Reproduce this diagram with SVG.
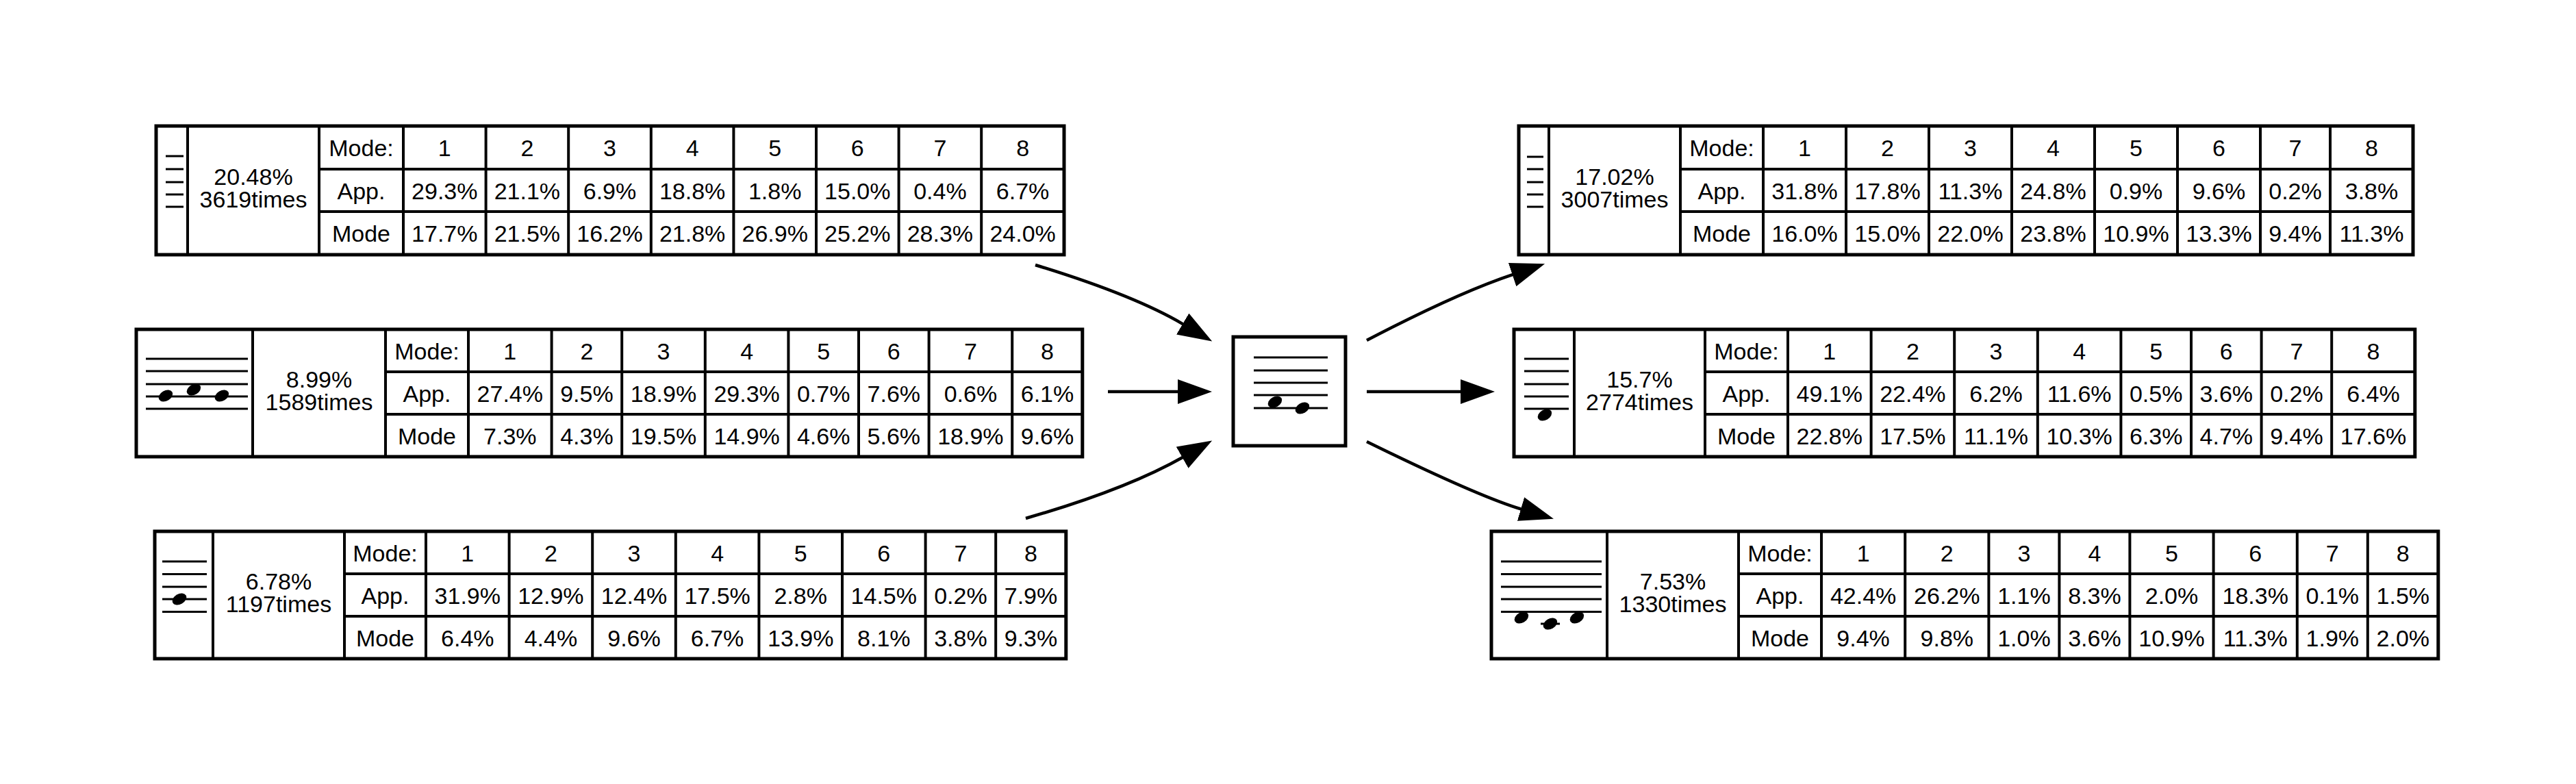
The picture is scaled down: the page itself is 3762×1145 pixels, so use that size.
<svg xmlns="http://www.w3.org/2000/svg" width="3762" height="1145" viewBox="0 0 3762 1145">
<style>
.bg{fill:#fff}
.box{fill:#fff;stroke:#000;stroke-width:5}
.grid{stroke:#000;stroke-width:4;fill:none}
.staff{stroke:#000;stroke-width:3}
.note{fill:#000}
.t{font-family:"Liberation Sans",Arial,Helvetica,sans-serif;font-size:34px;text-anchor:middle;fill:#000}
.edge{fill:none;stroke:#000;stroke-width:4.5}
</style>
<defs>
<marker id="ah" markerUnits="userSpaceOnUse" markerWidth="50" markerHeight="36" viewBox="0 0 50 36" refX="1" refY="18" orient="auto">
<path d="M0,0 L50,18 L0,36 Z" fill="#000"/>
</marker>
<ellipse id="nh" cx="0" cy="0" rx="11" ry="7.5" transform="rotate(-30)"/>
</defs>
<rect class="bg" x="0" y="0" width="3762" height="1145"/>

<g id="node-t1">
<rect class="box" x="228" y="184" width="1326" height="188"/>
<path class="grid" d="M274,184V372 M466,184V372 M589,184V372 M709.6,184V372 M830.2,184V372 M950.8,184V372 M1071.4,184V372 M1192,184V372 M1312.6,184V372 M1433.2,184V372 M466,247H1554 M466,309H1554"/>
<path class="staff" d="M242,228H268 M242,247H268 M242,266H268 M242,284H268 M242,302H268"/>
<text class="t"><tspan x="370" y="270">20.48%</tspan><tspan x="370" y="303">3619times</tspan></text>
<text class="t" y="228"><tspan x="527.5">Mode:</tspan><tspan x="649.3">1</tspan><tspan x="769.9">2</tspan><tspan x="890.5">3</tspan><tspan x="1011.1">4</tspan><tspan x="1131.7">5</tspan><tspan x="1252.3">6</tspan><tspan x="1372.9">7</tspan><tspan x="1493.6">8</tspan></text>
<text class="t" y="290.5"><tspan x="527.5">App.</tspan><tspan x="649.3">29.3%</tspan><tspan x="769.9">21.1%</tspan><tspan x="890.5">6.9%</tspan><tspan x="1011.1">18.8%</tspan><tspan x="1131.7">1.8%</tspan><tspan x="1252.3">15.0%</tspan><tspan x="1372.9">0.4%</tspan><tspan x="1493.6">6.7%</tspan></text>
<text class="t" y="352.5"><tspan x="527.5">Mode</tspan><tspan x="649.3">17.7%</tspan><tspan x="769.9">21.5%</tspan><tspan x="890.5">16.2%</tspan><tspan x="1011.1">21.8%</tspan><tspan x="1131.7">26.9%</tspan><tspan x="1252.3">25.2%</tspan><tspan x="1372.9">28.3%</tspan><tspan x="1493.6">24.0%</tspan></text>
</g>

<g id="node-t2">
<rect class="box" x="199" y="481" width="1381.8" height="186"/>
<path class="grid" d="M369,481V667 M563,481V667 M684,481V667 M805.6,481V667 M908.2,481V667 M1029.8,481V667 M1151.4,481V667 M1254,481V667 M1356.6,481V667 M1478.2,481V667 M563,543H1580.8 M563,605H1580.8"/>
<path class="staff" d="M213,524H362 M213,542H362 M213,561H362 M213,579H362 M213,597H362"/>
<use href="#nh" class="note" x="242" y="578"/>
<use href="#nh" class="note" x="283" y="569"/>
<use href="#nh" class="note" x="324" y="578"/>
<text class="t"><tspan x="466" y="566">8.99%</tspan><tspan x="466" y="599">1589times</tspan></text>
<text class="t" y="524.5"><tspan x="623.5">Mode:</tspan><tspan x="744.8">1</tspan><tspan x="856.9">2</tspan><tspan x="969">3</tspan><tspan x="1090.6">4</tspan><tspan x="1202.7">5</tspan><tspan x="1305.3">6</tspan><tspan x="1417.4">7</tspan><tspan x="1529.5">8</tspan></text>
<text class="t" y="586.5"><tspan x="623.5">App.</tspan><tspan x="744.8">27.4%</tspan><tspan x="856.9">9.5%</tspan><tspan x="969">18.9%</tspan><tspan x="1090.6">29.3%</tspan><tspan x="1202.7">0.7%</tspan><tspan x="1305.3">7.6%</tspan><tspan x="1417.4">0.6%</tspan><tspan x="1529.5">6.1%</tspan></text>
<text class="t" y="648.5"><tspan x="623.5">Mode</tspan><tspan x="744.8">7.3%</tspan><tspan x="856.9">4.3%</tspan><tspan x="969">19.5%</tspan><tspan x="1090.6">14.9%</tspan><tspan x="1202.7">4.6%</tspan><tspan x="1305.3">5.6%</tspan><tspan x="1417.4">18.9%</tspan><tspan x="1529.5">9.6%</tspan></text>
</g>

<g id="node-t3">
<rect class="box" x="226" y="776" width="1330.8" height="186"/>
<path class="grid" d="M311,776V962 M503,776V962 M622,776V962 M743.6,776V962 M865.2,776V962 M986.8,776V962 M1108.4,776V962 M1230,776V962 M1351.6,776V962 M1454.2,776V962 M503,838H1556.8 M503,900H1556.8"/>
<path class="staff" d="M237,820H302 M237,838.5H302 M237,857H302 M237,875H302 M237,893.5H302"/>
<use href="#nh" class="note" x="262" y="875"/>
<text class="t"><tspan x="407" y="861">6.78%</tspan><tspan x="407" y="894">1197times</tspan></text>
<text class="t" y="819.5"><tspan x="562.5">Mode:</tspan><tspan x="682.8">1</tspan><tspan x="804.4">2</tspan><tspan x="926">3</tspan><tspan x="1047.6">4</tspan><tspan x="1169.2">5</tspan><tspan x="1290.8">6</tspan><tspan x="1402.9">7</tspan><tspan x="1505.5">8</tspan></text>
<text class="t" y="881.5"><tspan x="562.5">App.</tspan><tspan x="682.8">31.9%</tspan><tspan x="804.4">12.9%</tspan><tspan x="926">12.4%</tspan><tspan x="1047.6">17.5%</tspan><tspan x="1169.2">2.8%</tspan><tspan x="1290.8">14.5%</tspan><tspan x="1402.9">0.2%</tspan><tspan x="1505.5">7.9%</tspan></text>
<text class="t" y="943.5"><tspan x="562.5">Mode</tspan><tspan x="682.8">6.4%</tspan><tspan x="804.4">4.4%</tspan><tspan x="926">9.6%</tspan><tspan x="1047.6">6.7%</tspan><tspan x="1169.2">13.9%</tspan><tspan x="1290.8">8.1%</tspan><tspan x="1402.9">3.8%</tspan><tspan x="1505.5">9.3%</tspan></text>
</g>

<g id="node-center">
<rect class="box" x="1801" y="492" width="164" height="159"/>
<path class="staff" d="M1831,522H1939 M1831,541H1939 M1831,559H1939 M1831,577H1939 M1831,596H1939"/>
<use href="#nh" class="note" x="1862" y="587"/>
<use href="#nh" class="note" x="1902" y="596"/>
</g>

<g id="node-t4">
<rect class="box" x="2218" y="184" width="1306" height="188"/>
<path class="grid" d="M2262,184V372 M2454,184V372 M2575,184V372 M2696,184V372 M2817,184V372 M2938,184V372 M3059,184V372 M3180,184V372 M3301,184V372 M3403,184V372 M2454,247H3524 M2454,309H3524"/>
<path class="staff" d="M2230,229H2254 M2230,247H2254 M2230,266H2254 M2230,284H2254 M2230,302H2254"/>
<text class="t"><tspan x="2358" y="270">17.02%</tspan><tspan x="2358" y="303">3007times</tspan></text>
<text class="t" y="228"><tspan x="2514.5">Mode:</tspan><tspan x="2635.5">1</tspan><tspan x="2756.5">2</tspan><tspan x="2877.5">3</tspan><tspan x="2998.5">4</tspan><tspan x="3119.5">5</tspan><tspan x="3240.5">6</tspan><tspan x="3352">7</tspan><tspan x="3463.5">8</tspan></text>
<text class="t" y="290.5"><tspan x="2514.5">App.</tspan><tspan x="2635.5">31.8%</tspan><tspan x="2756.5">17.8%</tspan><tspan x="2877.5">11.3%</tspan><tspan x="2998.5">24.8%</tspan><tspan x="3119.5">0.9%</tspan><tspan x="3240.5">9.6%</tspan><tspan x="3352">0.2%</tspan><tspan x="3463.5">3.8%</tspan></text>
<text class="t" y="352.5"><tspan x="2514.5">Mode</tspan><tspan x="2635.5">16.0%</tspan><tspan x="2756.5">15.0%</tspan><tspan x="2877.5">22.0%</tspan><tspan x="2998.5">23.8%</tspan><tspan x="3119.5">10.9%</tspan><tspan x="3240.5">13.3%</tspan><tspan x="3352">9.4%</tspan><tspan x="3463.5">11.3%</tspan></text>
</g>

<g id="node-t5">
<rect class="box" x="2211" y="481" width="1315.8" height="186"/>
<path class="grid" d="M2299,481V667 M2490,481V667 M2611,481V667 M2732.6,481V667 M2854.2,481V667 M2975.8,481V667 M3097.4,481V667 M3200,481V667 M3302.6,481V667 M3405.2,481V667 M2490,543H3526.8 M2490,605H3526.8"/>
<path class="staff" d="M2226,524H2291 M2226,542H2291 M2226,561H2291 M2226,579H2291 M2226,597H2291"/>
<use href="#nh" class="note" x="2256" y="606"/>
<text class="t"><tspan x="2394.5" y="566">15.7%</tspan><tspan x="2394.5" y="599">2774times</tspan></text>
<text class="t" y="524.5"><tspan x="2550.5">Mode:</tspan><tspan x="2671.8">1</tspan><tspan x="2793.4">2</tspan><tspan x="2915">3</tspan><tspan x="3036.6">4</tspan><tspan x="3148.7">5</tspan><tspan x="3251.3">6</tspan><tspan x="3353.9">7</tspan><tspan x="3466">8</tspan></text>
<text class="t" y="586.5"><tspan x="2550.5">App.</tspan><tspan x="2671.8">49.1%</tspan><tspan x="2793.4">22.4%</tspan><tspan x="2915">6.2%</tspan><tspan x="3036.6">11.6%</tspan><tspan x="3148.7">0.5%</tspan><tspan x="3251.3">3.6%</tspan><tspan x="3353.9">0.2%</tspan><tspan x="3466">6.4%</tspan></text>
<text class="t" y="648.5"><tspan x="2550.5">Mode</tspan><tspan x="2671.8">22.8%</tspan><tspan x="2793.4">17.5%</tspan><tspan x="2915">11.1%</tspan><tspan x="3036.6">10.3%</tspan><tspan x="3148.7">6.3%</tspan><tspan x="3251.3">4.7%</tspan><tspan x="3353.9">9.4%</tspan><tspan x="3466">17.6%</tspan></text>
</g>

<g id="node-t6">
<rect class="box" x="2178" y="776" width="1382.8" height="186"/>
<path class="grid" d="M2347,776V962 M2539,776V962 M2660,776V962 M2782.2,776V962 M2904.4,776V962 M3007.4,776V962 M3110.4,776V962 M3232.6,776V962 M3354.8,776V962 M3457.8,776V962 M2539,838H3560.8 M2539,900H3560.8"/>
<path class="staff" d="M2192,820H2339 M2192,838.5H2339 M2192,857H2339 M2192,875H2339 M2192,893.5H2339 M2250,911H2278"/>
<use href="#nh" class="note" x="2222" y="902"/>
<use href="#nh" class="note" x="2264" y="911"/>
<use href="#nh" class="note" x="2303" y="902"/>
<text class="t"><tspan x="2443" y="861">7.53%</tspan><tspan x="2443" y="894">1330times</tspan></text>
<text class="t" y="819.5"><tspan x="2599.5">Mode:</tspan><tspan x="2721.1">1</tspan><tspan x="2843.3">2</tspan><tspan x="2955.9">3</tspan><tspan x="3058.9">4</tspan><tspan x="3171.5">5</tspan><tspan x="3293.7">6</tspan><tspan x="3406.3">7</tspan><tspan x="3509.3">8</tspan></text>
<text class="t" y="881.5"><tspan x="2599.5">App.</tspan><tspan x="2721.1">42.4%</tspan><tspan x="2843.3">26.2%</tspan><tspan x="2955.9">1.1%</tspan><tspan x="3058.9">8.3%</tspan><tspan x="3171.5">2.0%</tspan><tspan x="3293.7">18.3%</tspan><tspan x="3406.3">0.1%</tspan><tspan x="3509.3">1.5%</tspan></text>
<text class="t" y="943.5"><tspan x="2599.5">Mode</tspan><tspan x="2721.1">9.4%</tspan><tspan x="2843.3">9.8%</tspan><tspan x="2955.9">1.0%</tspan><tspan x="3058.9">3.6%</tspan><tspan x="3171.5">10.9%</tspan><tspan x="3293.7">11.3%</tspan><tspan x="3406.3">1.9%</tspan><tspan x="3509.3">2.0%</tspan></text>
</g>

<g id="connectors">
<path class="edge" marker-end="url(#ah)" d="M1512,387 Q1656,431 1728,473.6"/>
<path class="edge" marker-end="url(#ah)" d="M1618,572 L1721,572"/>
<path class="edge" marker-end="url(#ah)" d="M1498,757 Q1644,715 1727.5,667.7"/>
<path class="edge" marker-end="url(#ah)" d="M1996,497 Q2128,428 2209.6,400.8"/>
<path class="edge" marker-end="url(#ah)" d="M1996,572 L2134,572"/>
<path class="edge" marker-end="url(#ah)" d="M1996,645 Q2159,725 2222,743.7"/>
</g>
</svg>
